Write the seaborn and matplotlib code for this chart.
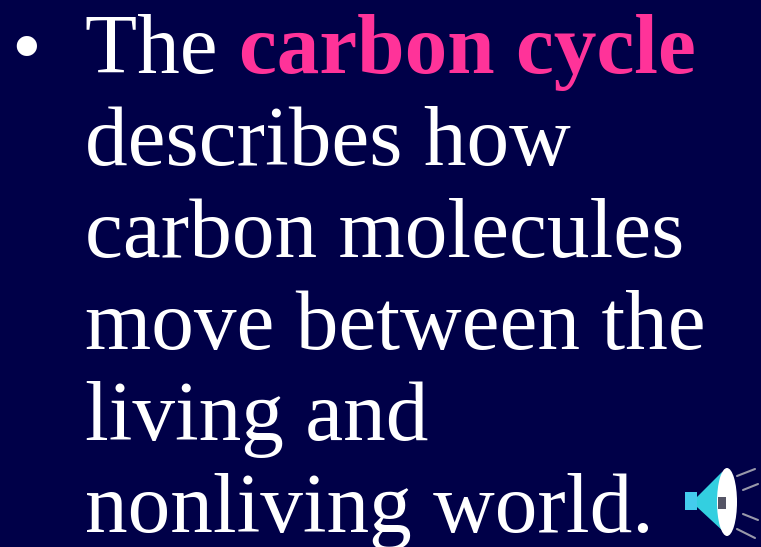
import seaborn as sns
from matplotlib import pyplot as plt
from matplotlib.patches import Ellipse, Polygon, Rectangle

BG = "#000048"
PINK = "#ff3399"

# each line: list of (text, colour, weight)
lines = [
    [("The ", "white", "normal"), ("carbon cycle", PINK, "bold")],
    [("describes how", "white", "normal")],
    [("carbon molecules", "white", "normal")],
    [("move between the", "white", "normal")],
    [("living and", "white", "normal")],
    [("nonliving world.", "white", "normal")],
]
baselines = [73, 165, 257, 349, 440, 532]

sns.set_style("white")
plt.rcParams["font.family"] = ["Liberation Serif", "DejaVu Serif"]

fig = plt.figure(figsize=(7.61, 5.47), dpi=100, facecolor=BG)
ax = fig.add_axes([0, 0, 1, 1])
ax.set_xlim(0, 761)
ax.set_ylim(547, 0)
ax.axis("off")

fs = 61.4
ax.text(11, 74, "•", color="white", fontsize=fs, va="baseline")

renderer = fig.canvas.get_renderer()
for line, y in zip(lines, baselines):
    x = 85
    for txt, col, weight in line:
        t = ax.text(x, y, txt, color=col, fontsize=fs, fontweight=weight, va="baseline")
        # extent already counts the trailing space
        x = t.get_window_extent(renderer).x1

# small speaker icon
ax.add_patch(Rectangle((685, 492), 12, 18, color="#44ccee", lw=0))
ax.add_patch(Polygon([(697, 497), (722, 472), (724, 532), (697, 507)], color="#33cfe0", lw=0))
ax.add_patch(Ellipse((727, 502), 20, 68, color="white", lw=0))
ax.add_patch(Rectangle((718, 497), 8, 12, color="#555566", lw=0))
rays = [((737, 755), (476, 469)), ((743, 758), (490, 484)), ((743, 758), (514, 520)), ((737, 755), (529, 538))]
for xs, ys in rays:
    ax.plot(xs, ys, color="#9999aa", lw=1.5)

fig.savefig("out.png", dpi=100, facecolor=BG)
